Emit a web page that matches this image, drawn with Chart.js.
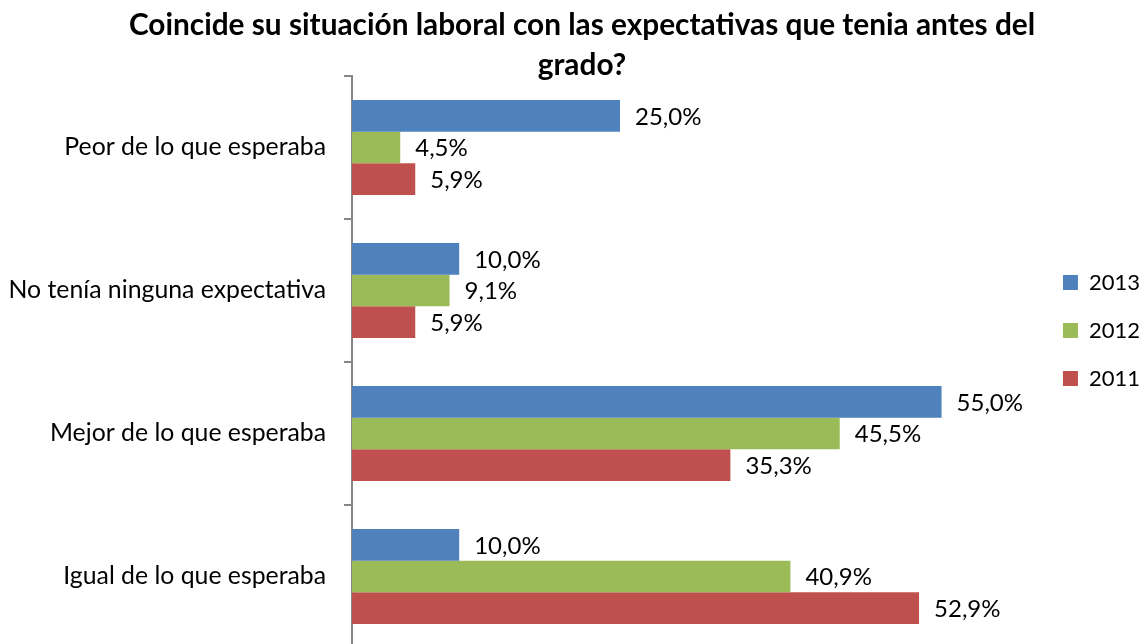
<!DOCTYPE html>
<html>
<head>
<meta charset="utf-8">
<script src="https://cdn.jsdelivr.net/npm/chart.js@4.4.0/dist/chart.umd.min.js"></script>
<style>
  html, body { margin: 0; padding: 0; overflow: hidden; background: #fff; }
  #wrap { width: 1148px; height: 648px; position: relative; }
</style>
</head>
<body>
<div id="wrap"><canvas id="chart"></canvas></div>
<script>
// Data
const categories = ['Peor de lo que esperaba', 'No tenía ninguna expectativa', 'Mejor de lo que esperaba', 'Igual de lo que esperaba'];
const years = ['2013', '2012', '2011'];
const values2013 = [25.0, 10.0, 55.0, 10.0];
const values2012 = [4.5, 9.1, 45.5, 40.9];
const values2011 = [5.9, 5.9, 35.3, 52.9];
const colors = ['#4F81BD', '#9BBB59', '#C0504D'];

Chart.defaults.font.family = 'Lato, "Liberation Sans", sans-serif';
Chart.defaults.color = '#000';

// draw "25,0%" style labels to the right of each bar
const valueLabels = {
    id: 'valueLabels',
    afterLayout(chart) {
        // let the long category label use the left margin instead of being clipped
        chart.scales.y.left = 0;
    },
    afterDatasetsDraw(chart) {
        const ctx = chart.ctx;
        ctx.save();
        ctx.font = '24px Lato';
        ctx.fillStyle = '#000';
        ctx.textAlign = 'left';
        ctx.textBaseline = 'middle';
        chart.data.datasets.forEach((ds, i) => {
            chart.getDatasetMeta(i).data.forEach((bar, j) => {
                const txt = ds.data[j].toFixed(1).replace('.', ',') + '%';
                ctx.fillText(txt, bar.x + 15, bar.y + 1);
            });
        });
        ctx.restore();
    }
};

const seriesValues = [values2013, values2012, values2011];

new Chart(document.getElementById('chart'), {
    type: 'bar',
    data: {
        labels: categories,
        datasets: years.map((y, i) => ({
            label: y,
            data: seriesValues[i],
            backgroundColor: colors[i],
            borderWidth: 0,
            categoryPercentage: 0.664,
            barPercentage: 1.0
        }))
    },
    options: {
        indexAxis: 'y',
        responsive: true,
        maintainAspectRatio: false,
        animation: false,
        layout: { padding: { left: 14, right: -2, top: 0, bottom: 0 } },
        plugins: {
            title: {
                display: true,
                text: ['Coincide su situación laboral con las expectativas que tenia antes del', 'grado?'],
                font: { size: 29.8, weight: 'bold', lineHeight: 40 / 29.8 },
                color: '#000',
                padding: { top: 5, bottom: -9 }
            },
            legend: {
                position: 'right',
                align: 'start',
                title: { display: true, text: '', font: { size: 10, lineHeight: 1 }, padding: { top: 235.5, bottom: 0 } },
                labels: {
                    font: { size: 22 },
                    boxWidth: 15,
                    boxHeight: 15,
                    padding: 26,
                    color: '#000'
                }
            },
            tooltip: { enabled: false }
        },
        scales: {
            x: {
                display: false,
                min: 0,
                max: 63.9,
                grid: { display: false }
            },
            y: {
                afterFit(scale) {
                    scale.width = 338;
                    scale.paddingTop = 0;
                    scale.paddingBottom = 0;
                },
                grid: {
                    drawOnChartArea: false,
                    drawTicks: true,
                    tickLength: 8,
                    color: '#868686',
                    lineWidth: 2
                },
                border: { display: true, color: '#868686', width: 2 },
                ticks: { font: { size: 24.8 }, color: '#000', padding: 18 }
            }
        }
    },
    plugins: [valueLabels]
});
</script>
</body>
</html>
